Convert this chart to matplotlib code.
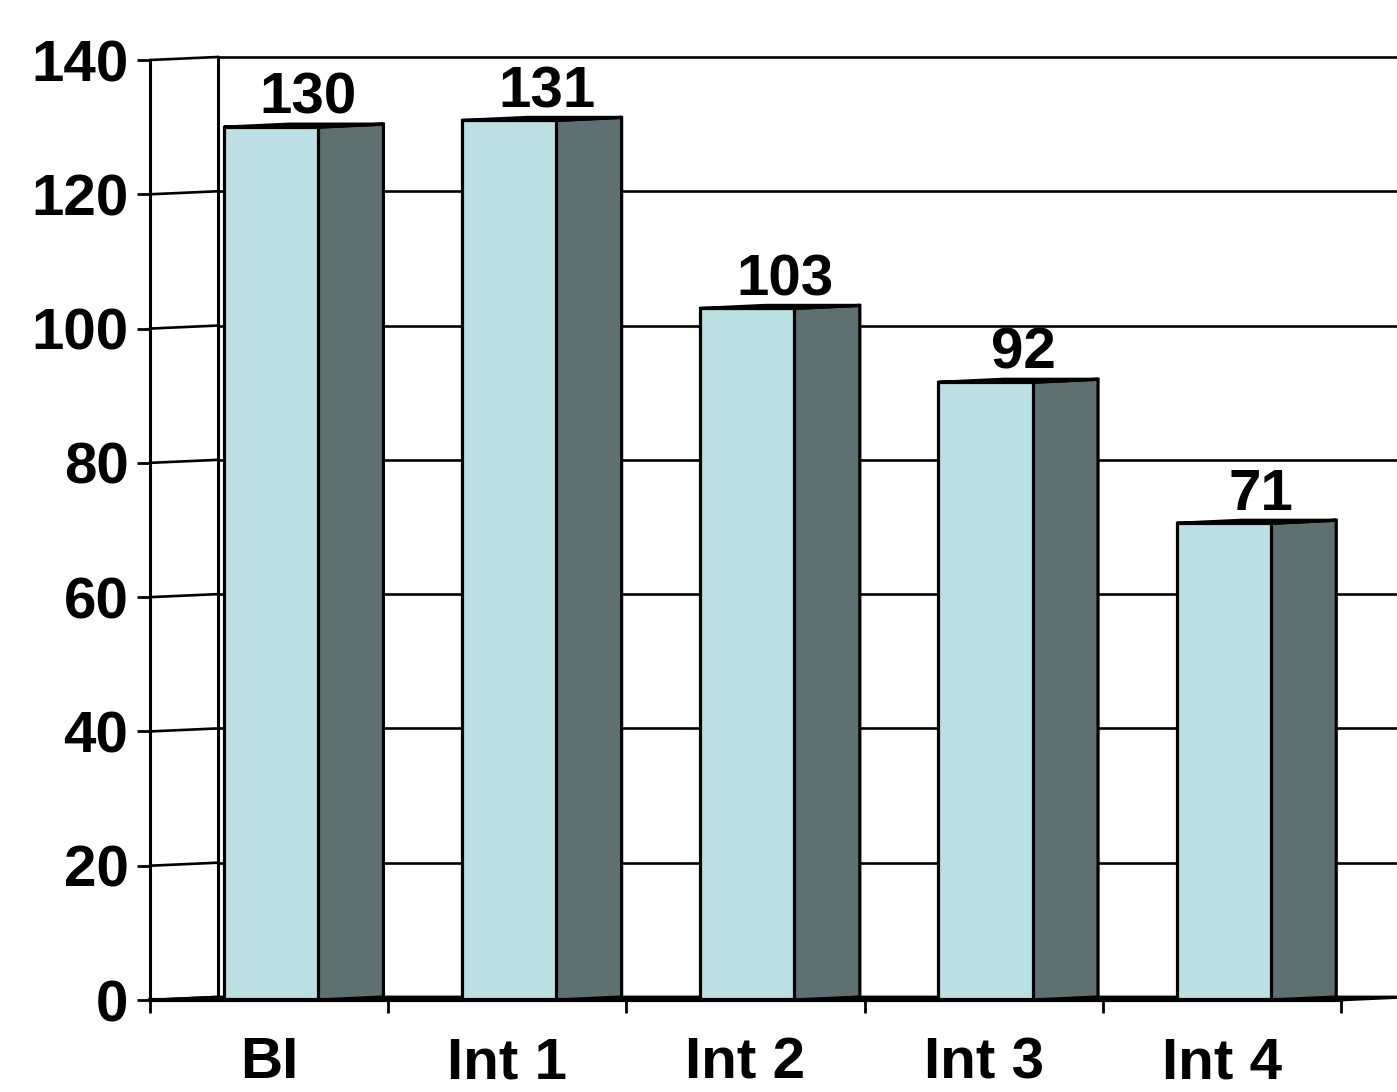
import matplotlib
matplotlib.use("Agg")
import matplotlib.pyplot as plt
from matplotlib.patches import Polygon

plt.rcParams['font.family'] = ['Liberation Sans', 'DejaVu Sans']
plt.rcParams['font.weight'] = 'bold'

# data
categories = ["BI", "Int 1", "Int 2", "Int 3", "Int 4"]
values = [130, 131, 103, 92, 71]
yticks = [0, 20, 40, 60, 80, 100, 120, 140]

front_color = "#bbe0e3"
side_color = "#5f7070"
top_color = "#8fb0b3"

# pseudo 3d depth (category units / value units)
DX = 0.285
DY = 0.45
BAR_DX = 0.275
BAR_LEFT = -0.19
BAR_W = 0.395

fig = plt.figure(figsize=(13.97, 10.92), dpi=100)
ax = fig.add_axes([150 / 1397, 92 / 1092, 1247 / 1397, 940 / 1092])
xmax = -0.5 + 1247 / 238.2
ax.set_xlim(-0.5, xmax)
ax.set_ylim(0, 140)

# back wall gridlines + side wall diagonals
for v in yticks:
    ax.plot([-0.5 + DX, xmax + 0.1], [v + DY, v + DY], color="black", lw=1.9,
            zorder=1, clip_on=False, solid_capstyle="butt")
    ax.plot([-0.5, -0.5 + DX], [v, v + DY], color="black", lw=1.9,
            zorder=1, clip_on=False)
ax.plot([-0.5 + DX, -0.5 + DX], [DY, 140 + DY], color="black", lw=2.2,
        zorder=1, clip_on=False)

# floor
n = len(categories)
floor = Polygon([(-0.5, 0), (n - 0.5, 0), (n - 0.5 + DX, DY), (-0.5 + DX, DY)],
                closed=True, facecolor="black", edgecolor="black", lw=2,
                zorder=2, clip_on=False)
ax.add_patch(floor)

# bars
for i, v in enumerate(values):
    x0 = i + BAR_LEFT
    x1 = x0 + BAR_W
    front = Polygon([(x0, 0), (x1, 0), (x1, v), (x0, v)], closed=True,
                    facecolor=front_color, edgecolor="black", lw=2.3, zorder=3,
                    joinstyle="miter")
    side = Polygon([(x1, 0), (x1 + BAR_DX, DY), (x1 + BAR_DX, v + DY), (x1, v)],
                   closed=True, facecolor=side_color, edgecolor="black", lw=2.3,
                   zorder=3, joinstyle="miter")
    top = Polygon([(x0, v), (x1, v), (x1 + BAR_DX, v + DY), (x0 + BAR_DX, v + DY)],
                  closed=True, facecolor=top_color, edgecolor="black", lw=2.3,
                  zorder=4, joinstyle="miter")
    ax.add_patch(side)
    ax.add_patch(front)
    ax.add_patch(top)
    ax.text(i + 0.165, v + 2.0, str(v), ha="center", va="baseline",
            fontsize=42, fontweight="bold", zorder=5)

# axes (front)
for s in ["top", "right"]:
    ax.spines[s].set_visible(False)
ax.spines["left"].set_linewidth(2.2)
ax.spines["bottom"].set_linewidth(3)
ax.spines["bottom"].set_bounds(-0.5, n - 0.5)
ax.spines["left"].set_zorder(6)
ax.spines["bottom"].set_zorder(6)

ax.set_yticks(yticks)
ax.set_yticklabels([str(t) for t in yticks])
ax.tick_params(axis="y", direction="out", length=9.5, width=2, pad=6,
               labelsize=42)
ax.set_xticks([i - 0.5 for i in range(n + 1)])
ax.set_xticklabels([])
ax.tick_params(axis="x", which="major", direction="out", length=9.5, width=2)
ax.set_xticks(list(range(n)), minor=True)
ax.set_xticklabels(categories, minor=True)
ax.tick_params(axis="x", which="minor", length=0, pad=26, labelsize=42)
for lab in ax.get_xticklabels(minor=True) + ax.get_yticklabels():
    lab.set_fontweight("bold")

fig.savefig("out.png", dpi=100)
